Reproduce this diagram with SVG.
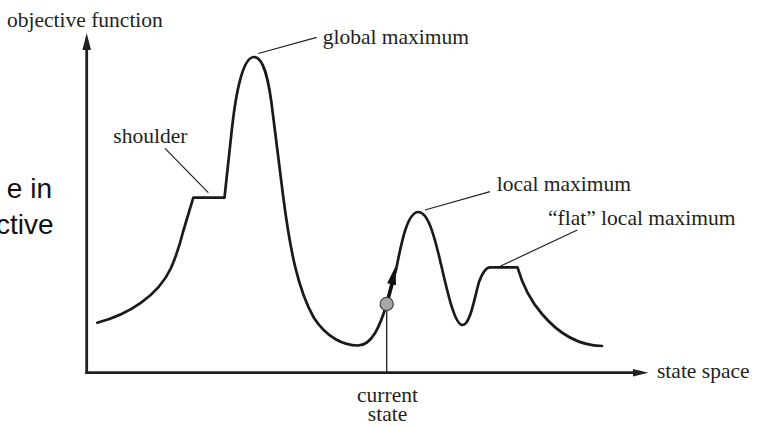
<svg xmlns="http://www.w3.org/2000/svg" width="763" height="426" viewBox="0 0 763 426">
  <style>
    .lbl { font-family: "Liberation Serif", "Times New Roman", serif; font-size: 21.5px; fill: #231f20; }
    .side { font-family: "Liberation Sans", Arial, sans-serif; font-size: 28px; fill: #111; }
    .axis { stroke: #231f20; stroke-width: 2.8; fill: none; }
    .curve { stroke: #1a1a1a; stroke-width: 2.7; fill: none; stroke-linejoin: round; stroke-linecap: round; }
    .leader { stroke: #231f20; stroke-width: 1.2; fill: none; }
  </style>
  <rect width="763" height="426" fill="#ffffff"/>

  <g id="slide-fragment">
    <text class="side" x="52" y="198" text-anchor="end">e in</text>
    <text class="side" x="53.5" y="233.5" text-anchor="end">ctive</text>
  </g>

  <g id="axes">
    <g id="y-axis">
      <line class="axis" x1="86.7" y1="374" x2="86.7" y2="48"/>
      <polygon points="86.7,33 82.4,50 91,50" fill="#231f20"/>
      <text class="lbl" x="7" y="27.3">objective function</text>
    </g>
    <g id="x-axis">
      <line class="axis" x1="85.3" y1="372.7" x2="636" y2="372.7"/>
      <polygon points="648.5,372.7 633,368.9 633,376.5" fill="#231f20"/>
      <text class="lbl" x="657" y="378">state space</text>
    </g>
  </g>

  <g id="landscape">
    <path class="curve" d="M97.3,322.7 C128,315 158,296 171,268 Q178,252 183,232 L193.3,197.7 L224.5,197.7 L232,128 C236,92 243,57 254,57 C264,57 269,80 273,115 L283,195 C290,250 298,290 314,318 C327,338 344,345.5 358,345.5 C372,345.5 380,326 386.7,304 L396,270 C401,245 407,212 418.3,212 C428,212 434,235 440,260 C446,285 454,325 462.3,325 C470,325 474,300 479,282 C483,271 486,267.3 490,267.3 L517.5,267.3 C522,283 530,300 542,314 C558,333 578,345.5 602,346"/>
  </g>

  <g id="current-state">
    <line x1="386.7" y1="310" x2="386.7" y2="372" stroke="#231f20" stroke-width="1.3"/>
    <path d="M386.7,304 L392.5,282" stroke="#111" stroke-width="3.6" fill="none"/>
    <polygon points="395.5,266.5 396,285.2 387.1,283.2" fill="#111"/>
    <circle cx="386.7" cy="304" r="6.6" fill="#a8a8a8" stroke="#444" stroke-width="1.2"/>
    <text class="lbl" x="387.5" y="401.7" text-anchor="middle">current</text>
    <text class="lbl" x="387.5" y="421" text-anchor="middle">state</text>
  </g>

  <g id="connectors">
    <line class="leader" x1="165" y1="148.3" x2="208.3" y2="192.7"/>
    <line class="leader" x1="258.3" y1="53.5" x2="316.7" y2="37.3"/>
    <line class="leader" x1="425" y1="210" x2="490" y2="191.7"/>
    <line class="leader" x1="500.7" y1="266" x2="577.3" y2="230"/>
  </g>

  <g id="labels">
    <text id="shoulder" class="lbl" x="113.3" y="143.3">shoulder</text>
    <text id="global-maximum" class="lbl" x="322.7" y="44">global maximum</text>
    <text id="local-maximum" class="lbl" x="496.7" y="190.7">local maximum</text>
    <text id="flat-local-maximum" class="lbl" x="548" y="225">“flat” local maximum</text>
  </g>
</svg>
